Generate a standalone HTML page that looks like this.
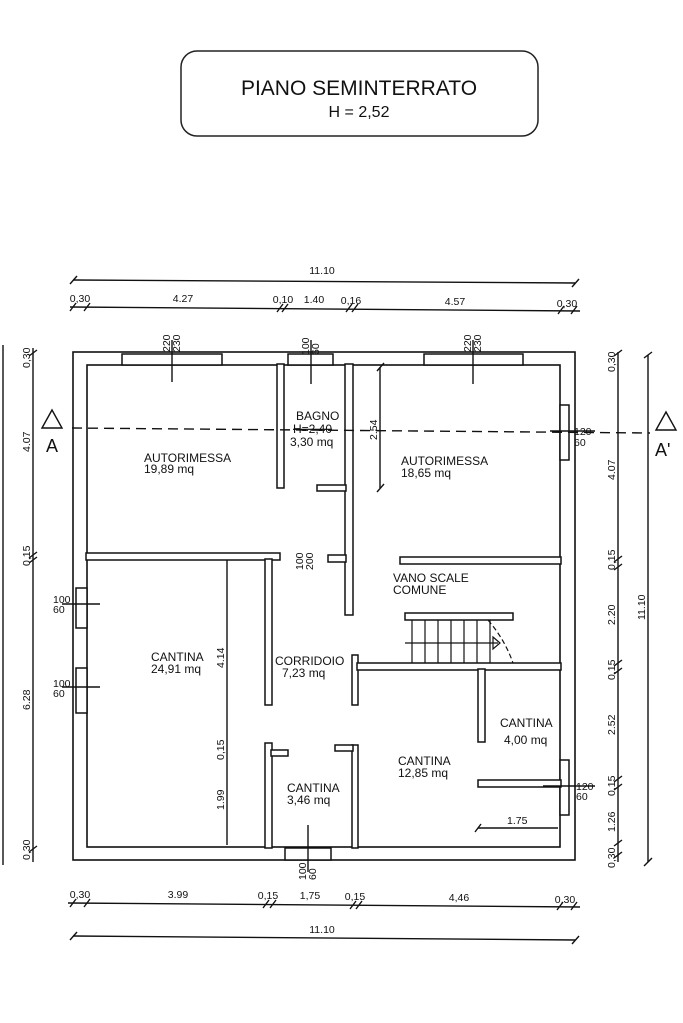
<!DOCTYPE html>
<html><head><meta charset="utf-8"><style>
html,body{margin:0;padding:0;background:#fff;}
svg{display:block;}
text{font-family:"Liberation Sans",sans-serif;fill:#111;}
</style></head><body>
<svg width="683" height="1023" viewBox="0 0 683 1023" xmlns="http://www.w3.org/2000/svg">
<rect width="683" height="1023" fill="#fff"/>
<!-- title -->
<rect x="181" y="51" width="357" height="85" rx="16" fill="none" stroke="#222" stroke-width="1.5"/>
<text x="359" y="95" font-size="21" text-anchor="middle">PIANO SEMINTERRATO</text>
<text x="359" y="117" font-size="16" text-anchor="middle">H = 2,52</text>

<g stroke="#111" stroke-width="1.6" fill="none">
<rect x="73" y="352" width="502" height="508" fill="#fff"/>
<rect x="87" y="365" width="473" height="482"/>
</g>
<g stroke="#111" stroke-width="1.5" fill="#fff">
<rect x="122" y="354" width="100" height="11"/>
<rect x="424" y="354" width="99" height="11"/>
<rect x="288" y="354" width="45" height="11"/>
<rect x="560" y="405" width="9" height="55"/>
<rect x="560" y="760" width="9" height="55"/>
<rect x="76" y="588" width="11" height="40"/>
<rect x="76" y="668" width="11" height="45"/>
<rect x="285" y="848" width="46" height="12"/>
<rect x="277" y="364" width="7" height="124"/>
<rect x="345" y="364" width="8" height="251"/>
<rect x="317" y="485" width="29" height="6"/>
<rect x="86" y="553" width="194" height="7"/>
<rect x="265" y="559" width="7" height="146"/>
<rect x="328" y="555" width="18" height="7"/>
<rect x="400" y="557" width="161" height="7"/>
<rect x="352" y="655" width="6" height="50"/>
<rect x="357" y="663" width="204" height="7"/>
<rect x="478" y="669" width="7" height="73"/>
<rect x="478" y="780" width="83" height="7"/>
<rect x="265" y="743" width="7" height="105"/>
<rect x="271" y="750" width="17" height="6"/>
<rect x="352" y="745" width="6" height="103"/>
<rect x="335" y="745" width="18" height="6"/>
<rect x="405" y="613" width="108" height="7"/>
</g>
<g stroke="#111" stroke-width="1.2" fill="none">
<line x1="412" y1="620" x2="412" y2="663"/>
<line x1="425" y1="620" x2="425" y2="663"/>
<line x1="438" y1="620" x2="438" y2="663"/>
<line x1="451" y1="620" x2="451" y2="663"/>
<line x1="464" y1="620" x2="464" y2="663"/>
<line x1="477" y1="620" x2="477" y2="663"/>
<line x1="490" y1="620" x2="490" y2="663"/>
<line x1="405" y1="643" x2="498" y2="643"/>
<path d="M488 620 Q505 640 513 663" stroke-dasharray="5,3"/>
<path d="M493 637 L500 643 L493 649 Z"/>
</g>
<g stroke="#111" stroke-width="1.4" fill="none">
<line x1="72" y1="428" x2="650" y2="433" stroke-dasharray="10,6"/>
<path d="M42 428 L52 410 L62 428 Z"/>
<path d="M656 430 L666 412 L676 430 Z"/>
<line x1="172" y1="340" x2="172" y2="382"/>
<line x1="473" y1="340" x2="473" y2="384"/>
<line x1="311" y1="340" x2="311" y2="384"/>
<line x1="62" y1="604" x2="100" y2="604"/>
<line x1="62" y1="687" x2="100" y2="687"/>
<line x1="550" y1="431" x2="595" y2="431"/>
<line x1="543" y1="786" x2="595" y2="786"/>
<line x1="308" y1="825" x2="308" y2="872"/>
<line x1="380" y1="367" x2="380" y2="488"/>
<line x1="377" y1="371" x2="384" y2="363"/>
<line x1="377" y1="492" x2="384" y2="484"/>
<line x1="227" y1="560" x2="227" y2="845"/>
<line x1="478" y1="828" x2="558" y2="828"/>
<line x1="475" y1="832" x2="481" y2="824"/>
<line x1="73" y1="280" x2="575" y2="283"/>
<line x1="70" y1="284" x2="77" y2="276"/><line x1="572" y1="287" x2="579" y2="279"/>
<line x1="70" y1="307" x2="580" y2="311"/>
<path d="M70 311 l6 -8 M84 311 l6 -8 M277 312 l6 -8 M282 312 l6 -8 M346 312 l6 -8 M352 312 l6 -8 M558 314 l6 -8 M571 314 l6 -8"/>
<line x1="68" y1="903" x2="580" y2="907"/>
<path d="M70 907 l6 -8 M84 907 l6 -8 M263 908 l6 -8 M270 908 l6 -8 M350 909 l6 -8 M356 909 l6 -8 M557 910 l6 -8 M571 910 l6 -8"/>
<line x1="73" y1="936" x2="575" y2="940"/>
<line x1="70" y1="940" x2="77" y2="932"/><line x1="572" y1="944" x2="579" y2="936"/>
<line x1="33" y1="348" x2="33" y2="862"/>
<path d="M29 356 l8 -6 M29 558 l8 -6 M29 563 l8 -6 M29 852 l8 -6"/>
<line x1="3" y1="345" x2="3" y2="865"/>
<line x1="618" y1="352" x2="618" y2="862"/>
<path d="M614 356 l8 -6 M614 562 l8 -6 M614 570 l8 -6 M614 666 l8 -6 M614 674 l8 -6 M614 782 l8 -6 M614 790 l8 -6 M614 846 l8 -6 M614 858 l8 -6"/>
<line x1="648" y1="355" x2="648" y2="862"/>
<line x1="644" y1="358" x2="652" y2="352"/><line x1="644" y1="866" x2="652" y2="858"/>
</g>
<text x="46" y="452" font-size="18">A</text>
<text x="655" y="456" font-size="18">A'</text>
<g font-size="12">
<text x="144" y="462">AUTORIMESSA</text><text x="144" y="473">19,89 mq</text>
<text x="296" y="420">BAGNO</text><text x="293" y="433" text-decoration="line-through">H=2,40</text><text x="290" y="446">3,30 mq</text>
<text x="401" y="465">AUTORIMESSA</text><text x="401" y="477">18,65 mq</text>
<text x="393" y="582">VANO SCALE</text><text x="393" y="594">COMUNE</text>
<text x="151" y="661">CANTINA</text><text x="151" y="673">24,91 mq</text>
<text x="275" y="665">CORRIDOIO</text><text x="282" y="677">7,23 mq</text>
<text x="287" y="792">CANTINA</text><text x="287" y="804">3,46 mq</text>
<text x="398" y="765">CANTINA</text><text x="398" y="777">12,85 mq</text>
<text x="500" y="727">CANTINA</text><text x="504" y="744">4,00 mq</text>
</g>
<g font-size="10.5">
<text x="322" y="274" text-anchor="middle">11.10</text>
<text x="80" y="302" text-anchor="middle">0,30</text>
<text x="183" y="302" text-anchor="middle">4.27</text>
<text x="283" y="303" text-anchor="middle">0,10</text>
<text x="314" y="303" text-anchor="middle">1.40</text>
<text x="351" y="304" text-anchor="middle">0,16</text>
<text x="455" y="305" text-anchor="middle">4.57</text>
<text x="567" y="307" text-anchor="middle">0,30</text>
<text x="80" y="898" text-anchor="middle">0,30</text>
<text x="178" y="898" text-anchor="middle">3.99</text>
<text x="268" y="899" text-anchor="middle">0,15</text>
<text x="310" y="899" text-anchor="middle">1,75</text>
<text x="355" y="900" text-anchor="middle">0,15</text>
<text x="459" y="901" text-anchor="middle">4,46</text>
<text x="565" y="903" text-anchor="middle">0,30</text>
<text x="322" y="933" text-anchor="middle">11.10</text>
<text x="574" y="435">120</text><text x="574" y="446">60</text>
<text x="576" y="790">120</text><text x="576" y="800">60</text>
<text x="53" y="603">100</text><text x="53" y="613">60</text>
<text x="53" y="687">100</text><text x="53" y="697">60</text>
<text x="507" y="824">1.75</text>
<g transform="rotate(-90)">
<text x="-352" y="170">220</text><text x="-352" y="180">230</text>
<text x="-352" y="471">220</text><text x="-352" y="481">230</text>
<text x="-355" y="309">100</text><text x="-355" y="319">60</text>
<text x="-570" y="303">100</text><text x="-570" y="313">200</text>
<text x="-880" y="306">100</text><text x="-880" y="316">60</text>
<text x="-440" y="377">2.54</text>
<text x="-668" y="224">4.14</text>
<text x="-760" y="224">0,15</text>
<text x="-810" y="224">1.99</text>
<text x="-368" y="30">0,30</text>
<text x="-452" y="30">4.07</text>
<text x="-566" y="30">0,15</text>
<text x="-710" y="30">6.28</text>
<text x="-860" y="30">0,30</text>
<text x="-372" y="615">0,30</text>
<text x="-480" y="615">4.07</text>
<text x="-570" y="615">0,15</text>
<text x="-625" y="615">2.20</text>
<text x="-680" y="615">0,15</text>
<text x="-735" y="615">2.52</text>
<text x="-796" y="615">0,15</text>
<text x="-832" y="615">1.26</text>
<text x="-868" y="615">0,30</text>
<text x="-620" y="645">11.10</text>
</g>
</g>
</svg>
</body></html>
